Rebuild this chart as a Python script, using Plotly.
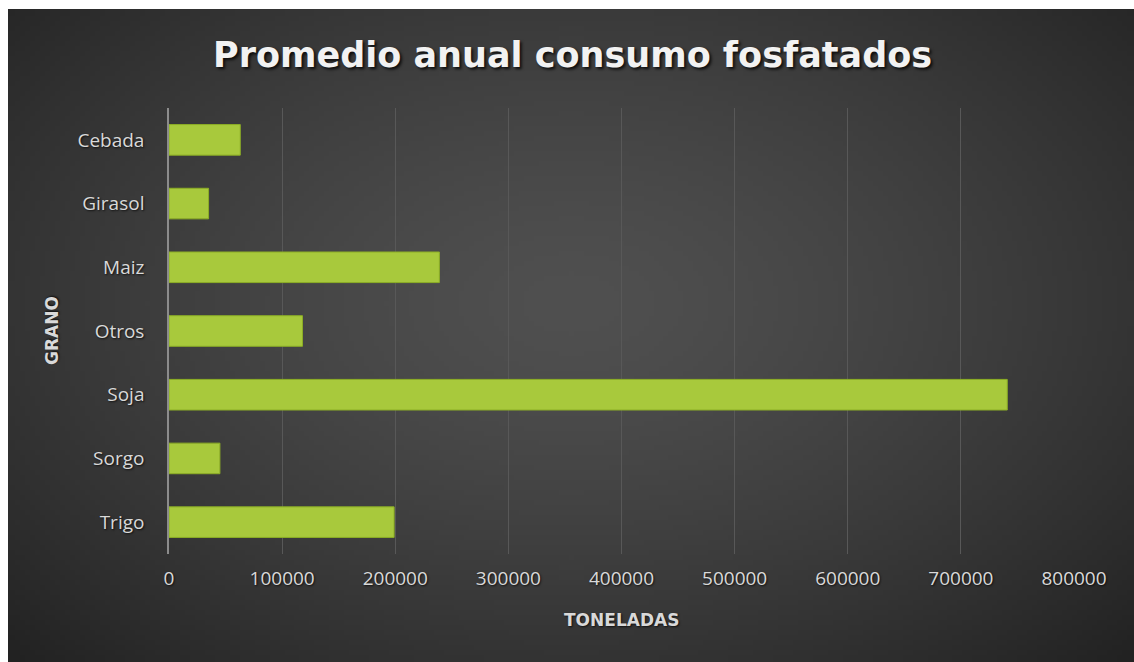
import base64
import struct
import zlib

import numpy as np
import plotly.graph_objects as go

# Average annual phosphate fertiliser use by crop (tonnes)
granos = ["Cebada", "Girasol", "Maiz", "Otros", "Soja", "Sorgo", "Trigo"]
toneladas = [63000, 35000, 239000, 118000, 741000, 45000, 199000]
x_ticks = [0, 100000, 200000, 300000, 400000, 500000, 600000, 700000, 800000]

W, H = 1134, 662


def png_uri(rgb):
    """Encode an HxWx3 uint8 array as a PNG data URI."""
    h, w, _ = rgb.shape
    raw = b"".join(b"\x00" + rgb[i].tobytes() for i in range(h))

    def chunk(tag, data):
        body = tag + data
        return struct.pack(">I", len(data)) + body + struct.pack(">I", zlib.crc32(body) & 0xFFFFFFFF)

    png = b"\x89PNG\r\n\x1a\n"
    png += chunk(b"IHDR", struct.pack(">IIBBBBB", w, h, 8, 2, 0, 0, 0))
    png += chunk(b"IDAT", zlib.compress(raw, 9))
    png += chunk(b"IEND", b"")
    return "data:image/png;base64," + base64.b64encode(png).decode()


# Dark radial-gradient backdrop (lighter in the middle, darker toward edges)
gw, gh = 226, 131
yy, xx = np.mgrid[0:gh, 0:gw]
dx = (xx / (gw - 1) - 0.50) / 0.60
dy = (yy / (gh - 1) - 0.45) / 0.65
d = np.clip(np.sqrt(dx ** 2 + dy ** 2), 0, 1.2)
val = 80 - 36 * d ** 1.4
g = np.clip(val, 0, 255).astype(np.uint8)
bg = np.stack([g, g, g], axis=-1)

# Plot-area position in pixels
px0, px1 = 169, 1074
py0, py1 = 108, 554


def fx(px):
    return px / W


def fy(py):
    return 1 - py / H


tick_font = dict(family="Open Sans, Lato, sans-serif", size=19, color="#d9d9d9",
                 shadow="1px 1px 2px rgba(0,0,0,0.7)")
axis_title_font = dict(family="DejaVu Sans, sans-serif", size=17, color="#d9d9d9",
                       shadow="1px 1px 2px rgba(0,0,0,0.7)")

fig = go.Figure()
fig.add_trace(go.Bar(
    x=toneladas,
    y=granos,
    orientation="h",
    marker=dict(color="#a8c93c", line=dict(color="#8cae25", width=1)),
    hoverinfo="x+y",
))

fig.update_layout(
    width=W,
    height=H,
    margin=dict(l=0, r=0, t=0, b=0),
    paper_bgcolor="#ffffff",
    plot_bgcolor="rgba(0,0,0,0)",
    bargap=0.52,
    showlegend=False,
    xaxis=dict(
        domain=[fx(px0), fx(px1)],
        range=[0, 800000],
        tickvals=x_ticks,
        ticktext=[str(v) for v in x_ticks],
        showgrid=True,
        gridcolor="#585858",
        gridwidth=1,
        zeroline=False,
        showline=False,
        ticks="",
        ticklabelstandoff=11,
        tickfont=tick_font,
        automargin=False,
        fixedrange=True,
    ),
    yaxis=dict(
        domain=[fy(py1), fy(py0)],
        categoryorder="array",
        categoryarray=granos,
        autorange="reversed",
        showgrid=False,
        zeroline=False,
        showline=True,
        linecolor="#8c8c8c",
        linewidth=1.5,
        ticks="",
        ticklabelstandoff=19,
        tickfont=tick_font,
        automargin=False,
        fixedrange=True,
    ),
    images=[dict(
        source=png_uri(bg),
        xref="paper", yref="paper",
        x=fx(8), y=fy(9),
        sizex=fx(W) - fx(8), sizey=fy(9) - fy(H),
        xanchor="left", yanchor="top",
        sizing="stretch",
        layer="below",
    )],
    annotations=[
        dict(
            text="<b>Promedio anual consumo fosfatados</b>",
            xref="paper", yref="paper",
            x=fx(572), y=fy(55),
            xanchor="center", yanchor="middle",
            showarrow=False,
            font=dict(family="DejaVu Sans, sans-serif", size=35, color="#f2f2f2",
                      shadow="2px 2px 3px rgba(0,0,0,0.8)"),
        ),
        dict(
            text="<b>TONELADAS</b>",
            xref="paper", yref="paper",
            x=fx(621), y=fy(620),
            xanchor="center", yanchor="middle",
            showarrow=False,
            font=axis_title_font,
        ),
        dict(
            text="<b>GRANO</b>",
            xref="paper", yref="paper",
            x=fx(52), y=fy(331),
            xanchor="center", yanchor="middle",
            textangle=-90,
            showarrow=False,
            font=axis_title_font,
        ),
    ],
)

fig.write_html("out.html", config={"displayModeBar": False})
